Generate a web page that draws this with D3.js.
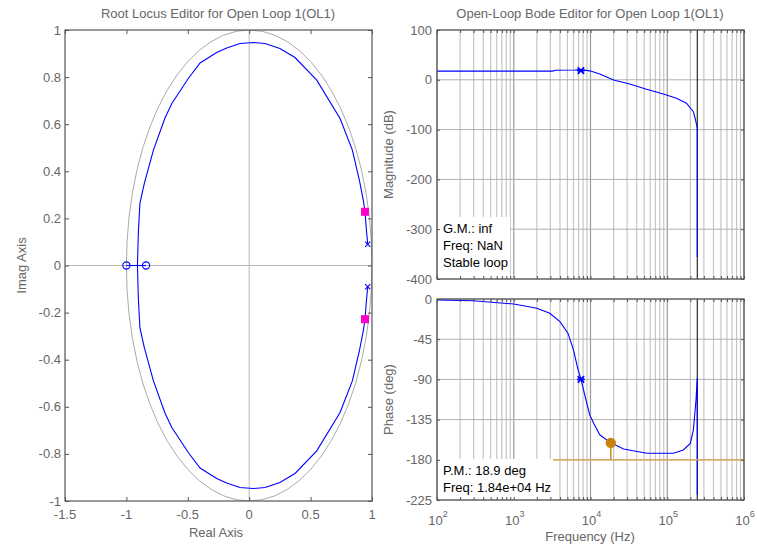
<!DOCTYPE html>
<html lang="en">
<head>
<meta charset="UTF-8">
<title>Root Locus / Bode Editor</title>
<script src="https://cdn.jsdelivr.net/npm/d3@7"></script>
<style>
  body { margin: 0; background: #fff; }
  svg { font-family: 'Liberation Sans', Arial, sans-serif; }
</style>
</head>
<body>
<svg width="757" height="550"></svg>
<script>
// ---- root locus data (upper branch, lower branch is its mirror) ----
const locusRe = [0.965, 0.953, 0.943, 0.929, 0.897, 0.84, 0.74, 0.55, 0.373, 0.25, 0.129, 0.033,
  -0.075, -0.183, -0.265, -0.40, -0.496, -0.63, -0.686, -0.78, -0.854, -0.89, -0.903, -0.91]
const locusIm = [0.09, 0.16, 0.228, 0.278, 0.363, 0.49, 0.624, 0.787, 0.883, 0.921, 0.943, 0.947,
  0.943, 0.924, 0.904, 0.86, 0.794, 0.688, 0.626, 0.49, 0.349, 0.264, 0.137, 0]
const zerosRe = [-1, -0.84]
const polesRe = [0.965, 0.965]
const polesIm = [0.09, -0.09]
const clPolesRe = [0.943, 0.943]
const clPolesIm = [0.228, -0.228]
const rlXTicks = [-1.5, -1, -0.5, 0, 0.5, 1]
const rlYTicks = [1, 0.8, 0.6, 0.4, 0.2, 0, -0.2, -0.4, -0.6, -0.8, -1]

// ---- bode data ----
const magFreq = [100, 3160, 3550, 6300, 7400, 9800, 13200, 20000, 32400, 53700, 89000, 132000,
  178000, 219000, 234000, 246000, 246000]
const magDb = [17.5, 17.5, 19.3, 19.8, 20.5, 18, 11.6, -0.4, -8.4, -19, -28.5, -37,
  -47, -64, -81, -97, -356]
const phFreq = [100, 295, 1000, 2000, 2950, 4000, 5100, 6000, 6900, 7500, 8500, 9800, 11000, 13200,
  18400, 27000, 54000, 120000, 162000, 200000, 219000, 229000, 237000, 246000, 246000]
const phDeg = [-1, -2, -5.6, -10.4, -16, -25.4, -38.5, -57, -79.5, -89.5, -109, -130, -139, -152,
  -161, -168, -172.7, -172.7, -169, -161.6, -146.6, -127.6, -113, -88.5, -219]
const magTicks = [100, 0, -100, -200, -300, -400]
const phTicks = [0, -45, -90, -135, -180, -225]
const decadeExp = [2, 3, 4, 5, 6]
const crossFreq = 7500, crossMag = 18.3, crossPh = -90
const pmFreq = 18400, pmPhase = -161.1
const nyqFreq = 246000
const gmText = ['G.M.: inf', 'Freq: NaN', 'Stable loop']
const pmText = ['P.M.: 18.9 deg', 'Freq: 1.84e+04 Hz']

const svg = d3.select('svg')
const axisColor = '#555'
const textColor = '#666'

svg.append('rect').attr('width', 757).attr('height', 550).attr('fill', '#fff')

// small helper to draw a box style axis (ticks inside on all sides)
function frame(g, x, y, xTicks, yTicks, tickLen) {
  const [x0, x1] = x.range(), [y0, y1] = y.range()
  g.append('g').attr('transform', `translate(0,${y0})`)
    .call(d3.axisBottom(x).tickValues(xTicks).tickSize(-tickLen).tickFormat(''))
  g.append('g').attr('transform', `translate(0,${y1})`)
    .call(d3.axisTop(x).tickValues(xTicks).tickSize(-tickLen).tickFormat(''))
  g.append('g').attr('transform', `translate(${x0},0)`)
    .call(d3.axisLeft(y).tickValues(yTicks).tickSize(-tickLen).tickFormat(''))
  g.append('g').attr('transform', `translate(${x1},0)`)
    .call(d3.axisRight(y).tickValues(yTicks).tickSize(-tickLen).tickFormat(''))
  g.selectAll('.domain').remove()
  g.selectAll('.tick line').attr('stroke', axisColor)
  g.append('rect')
    .attr('x', x0).attr('y', y1).attr('width', x1 - x0).attr('height', y0 - y1)
    .attr('fill', 'none').attr('stroke', axisColor).attr('stroke-width', 1.2)
}

// =================== ROOT LOCUS ===================
const rx = d3.scaleLinear().domain([-1.5, 1]).range([65, 372])
const ry = d3.scaleLinear().domain([-1, 1]).range([501, 30])
const rl = svg.append('g')

rl.append('clipPath').attr('id', 'clipRL').append('rect')
  .attr('x', 65).attr('y', 30).attr('width', 307).attr('height', 471)

// gray axes through origin
rl.append('line').attr('x1', rx(0)).attr('x2', rx(0)).attr('y1', ry(-1)).attr('y2', ry(1))
  .attr('stroke', '#b8b8b8')
rl.append('line').attr('x1', rx(-1.5)).attr('x2', rx(1)).attr('y1', ry(0)).attr('y2', ry(0))
  .attr('stroke', '#b8b8b8')

// unit circle
const circ = d3.range(0, 361, 6).map(a => [Math.cos(a * Math.PI / 180), Math.sin(a * Math.PI / 180)])
const rlLine = d3.line().x(d => rx(d[0])).y(d => ry(d[1]))
rl.append('path').attr('d', rlLine(circ)).attr('fill', 'none')
  .attr('stroke', '#ababab').attr('clip-path', 'url(#clipRL)')

// locus branches
const upper = locusRe.map((r, i) => [r, locusIm[i]])
const lower = upper.map(d => [d[0], -d[1]])
;[upper, lower, [[zerosRe[0], 0], [zerosRe[1], 0]]].forEach(pts => {
  rl.append('path').attr('d', rlLine(pts)).attr('fill', 'none')
    .attr('stroke', '#0000ff').attr('stroke-width', 1.1).attr('clip-path', 'url(#clipRL)')
})

// zeros
rl.selectAll('circle.zero').data(zerosRe).enter().append('circle')
  .attr('cx', d => rx(d)).attr('cy', ry(0)).attr('r', 3.6)
  .attr('fill', 'none').attr('stroke', '#0000ff').attr('stroke-width', 1.1)

// open loop poles (x)
polesRe.forEach((p, i) => {
  const cx = rx(p), cy = ry(polesIm[i]), s = 2.6
  rl.append('path').attr('d', `M${cx - s},${cy - s}L${cx + s},${cy + s}M${cx - s},${cy + s}L${cx + s},${cy - s}`)
    .attr('stroke', '#0000ff').attr('stroke-width', 1.1)
})

// closed loop poles
clPolesRe.forEach((p, i) => {
  rl.append('rect').attr('x', rx(p) - 4).attr('y', ry(clPolesIm[i]) - 4)
    .attr('width', 8).attr('height', 8).attr('fill', '#ff00c8')
})

frame(rl, rx, ry, rlXTicks, rlYTicks, 4)

// tick labels
rl.selectAll('text.xl').data(rlXTicks).enter().append('text')
  .attr('x', d => rx(d)).attr('y', 519).attr('text-anchor', 'middle')
  .attr('font-size', 13).attr('fill', textColor).text(d => d)
rl.selectAll('text.yl').data(rlYTicks).enter().append('text')
  .attr('x', 61).attr('y', d => ry(d) + 4.5).attr('text-anchor', 'end')
  .attr('font-size', 13).attr('fill', textColor).text(d => d)

rl.append('text').attr('x', 218).attr('y', 18).attr('text-anchor', 'middle')
  .attr('font-size', 13).attr('fill', textColor).text('Root Locus Editor for Open Loop 1(OL1)')
rl.append('text').attr('x', 216).attr('y', 537).attr('text-anchor', 'middle')
  .attr('font-size', 13).attr('fill', textColor).text('Real Axis')
rl.append('text').attr('transform', `translate(26,${ry(0)}) rotate(-90)`).attr('text-anchor', 'middle')
  .attr('font-size', 13).attr('fill', textColor).text('Imag Axis')

// =================== BODE ===================
const bx = d3.scaleLog().domain([1e2, 1e6]).range([437, 744])
const my = d3.scaleLinear().domain([-400, 100]).range([279, 30])
const py = d3.scaleLinear().domain([-225, 0]).range([500, 299])

// log tick positions 1..9 per decade
const logTicks = []
decadeExp.forEach(e => {
  for (let m = 1; m <= 9; m++) {
    const v = m * Math.pow(10, e)
    if (v <= 1e6) logTicks.push({ v: v, major: m === 1 })
  }
})

function bodePanel(y, yTicks) {
  const g = svg.append('g')
  const [y0, y1] = y.range()
  g.selectAll('line.vg').data(logTicks).enter().append('line')
    .attr('x1', d => bx(d.v)).attr('x2', d => bx(d.v)).attr('y1', y0).attr('y2', y1)
    .attr('stroke', d => d.major ? '#9a9a9a' : '#c6c6c6').attr('stroke-width', 1.2)
  g.selectAll('line.hg').data(yTicks).enter().append('line')
    .attr('x1', 437).attr('x2', 744).attr('y1', d => y(d)).attr('y2', d => y(d))
    .attr('stroke', '#b0b0b0')
  // nyquist frequency line
  g.append('line').attr('x1', bx(nyqFreq)).attr('x2', bx(nyqFreq)).attr('y1', y0).attr('y2', y1)
    .attr('stroke', '#000')
  return g
}

// magnitude
const mg = bodePanel(my, magTicks)
const magLine = d3.line().x((d, i) => bx(magFreq[i])).y(d => my(d))
mg.append('path').attr('d', magLine(magDb)).attr('fill', 'none')
  .attr('stroke', '#0000ff').attr('stroke-width', 1.1)

// phase
const pg = bodePanel(py, phTicks)
const phLine = d3.line().x((d, i) => bx(phFreq[i])).y(d => py(d))
pg.append('path').attr('d', phLine(phDeg)).attr('fill', 'none')
  .attr('stroke', '#0000ff').attr('stroke-width', 1.1)

// crossover markers (asterisk)
function asterisk(g, cx, cy) {
  const s = 3.2
  g.append('path')
    .attr('d', `M${cx - s},${cy - s}L${cx + s},${cy + s}M${cx - s},${cy + s}L${cx + s},${cy - s}M${cx - s - 0.6},${cy}L${cx + s + 0.6},${cy}`)
    .attr('stroke', '#0000ff').attr('stroke-width', 1.8)
}
asterisk(mg, bx(crossFreq), my(crossMag))
asterisk(pg, bx(crossFreq), py(crossPh))

// phase margin marker
pg.append('line').attr('x1', 437).attr('x2', 744).attr('y1', py(-180)).attr('y2', py(-180))
  .attr('stroke', '#d8a95c').attr('stroke-width', 1.5)
pg.append('line').attr('x1', bx(pmFreq)).attr('x2', bx(pmFreq)).attr('y1', py(-180)).attr('y2', py(pmPhase))
  .attr('stroke', '#cc8a20').attr('stroke-width', 1.5)
pg.append('circle').attr('cx', bx(pmFreq)).attr('cy', py(pmPhase)).attr('r', 5.2)
  .attr('fill', '#cc7f0a')

// text boxes
mg.append('rect').attr('x', 438).attr('y', 217).attr('width', 72).attr('height', 61).attr('fill', '#fff')
mg.selectAll('text.gm').data(gmText).enter().append('text')
  .attr('x', 443).attr('y', (d, i) => 233 + i * 17).attr('font-size', 13).attr('fill', '#000').text(d => d)
pg.append('rect').attr('x', 438).attr('y', 459).attr('width', 115).attr('height', 40).attr('fill', '#fff')
pg.selectAll('text.pm').data(pmText).enter().append('text')
  .attr('x', 443).attr('y', (d, i) => 475 + i * 16.5).attr('font-size', 13).attr('fill', '#000').text(d => d)

frame(mg, bx, my, logTicks.map(d => d.v), magTicks, 3)
frame(pg, bx, py, logTicks.map(d => d.v), phTicks, 3)

// y labels
mg.selectAll('text.yl').data(magTicks).enter().append('text')
  .attr('x', 432).attr('y', d => my(d) + 4.5).attr('text-anchor', 'end')
  .attr('font-size', 13).attr('fill', textColor).text(d => d)
pg.selectAll('text.yl').data(phTicks).enter().append('text')
  .attr('x', 432).attr('y', d => py(d) + 4.5).attr('text-anchor', 'end')
  .attr('font-size', 13).attr('fill', textColor).text(d => d)

// x labels 10^n
const xl = pg.selectAll('text.xl').data(decadeExp).enter().append('text')
  .attr('x', d => bx(Math.pow(10, d)) + 1).attr('y', 525).attr('text-anchor', 'middle')
  .attr('font-size', 13).attr('fill', textColor)
xl.append('tspan').text('10')
xl.append('tspan').attr('dy', -8).attr('font-size', 9).text(d => d)

svg.append('text').attr('x', 590).attr('y', 18).attr('text-anchor', 'middle')
  .attr('font-size', 13).attr('fill', textColor).text('Open-Loop Bode Editor for Open Loop 1(OL1)')
svg.append('text').attr('x', 590).attr('y', 541).attr('text-anchor', 'middle')
  .attr('font-size', 13).attr('fill', textColor).text('Frequency (Hz)')
svg.append('text').attr('transform', `translate(393,${my(-150)}) rotate(-90)`).attr('text-anchor', 'middle')
  .attr('font-size', 13).attr('fill', textColor).text('Magnitude (dB)')
svg.append('text').attr('transform', `translate(393,${py(-112.5)}) rotate(-90)`).attr('text-anchor', 'middle')
  .attr('font-size', 13).attr('fill', textColor).text('Phase (deg)')
</script>
</body>
</html>
